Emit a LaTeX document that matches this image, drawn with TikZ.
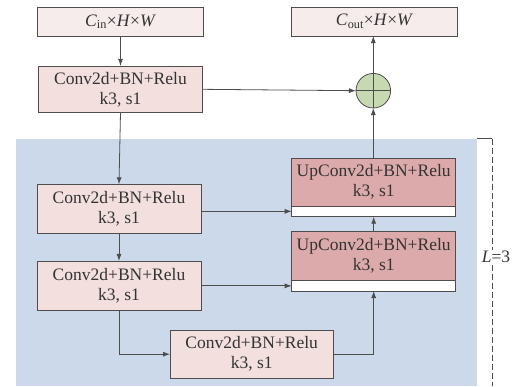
\documentclass[tikz,border=0pt]{standalone}
\usepackage{fontspec}
\setmainfont{Liberation Serif}
\usetikzlibrary{arrows.meta}
\definecolor{txt}{HTML}{333333}
\definecolor{edge}{HTML}{4D4D4D}
\definecolor{iofill}{HTML}{F7ECEC}
\definecolor{convfill}{HTML}{F2DFDE}
\definecolor{upfill}{HTML}{DCAAAA}
\definecolor{sumfill}{HTML}{C6D9B1}
\definecolor{bluebg}{HTML}{CCD9EB}
\tikzset{
  base/.style={draw=edge, line width=0.8pt, inner sep=0pt, outer sep=0pt, text=txt, align=center,
    font=\fontsize{17.5}{20}\selectfont},
  iobox/.style={base, fill=iofill, minimum width=165.5pt, minimum height=29pt},
  convbox/.style={base, fill=convfill, minimum width=164pt},
  upbox/.style={base, fill=upfill, minimum width=164pt, minimum height=47.7pt},
  stripbox/.style={base, fill=white, minimum width=164pt, minimum height=10.7pt},
  arr/.style={draw=edge, line width=0.8pt, -{Latex[length=7pt,width=5pt]}},
  ln/.style={draw=edge, line width=0.8pt},
}
\begin{document}
\begin{tikzpicture}[x=1pt,y=-1pt]
\useasboundingbox (0,0) rectangle (522,386);
\fill[bluebg] (16,138.5) rectangle (476.7,386);
\draw[ln] (476.7,138.5) -- (492,138.5) coordinate (brk);
\coordinate (brkb) at (492,386);
\draw[ln, dash pattern=on 6pt off 3pt] (brk) -- (brkb);
\node[fill=white, inner sep=1pt, text=txt, font=\fontsize{17.5}{20}\selectfont] (lab) at (496,257) {\textit{L}=3};

\node[iobox] (in) at (120.5,21.5) {\textit{C}\textsubscript{in}×\textit{H}×\textit{W}};
\node[iobox] (out) at (374.5,21.5) {\textit{C}\textsubscript{out}×\textit{H}×\textit{W}};
\node[convbox, minimum height=46.7pt] (c1) at (120.5,89.3) {Conv2d+BN+Relu\\k3, s1};
\node[base, circle, fill=sumfill, minimum size=34.6pt] (sum) at (373.3,90.7) {};
\draw[ln] (sum.north) -- (sum.south) (sum.west) -- (sum.east);
\node[convbox, minimum height=49pt] (c2) at (119,208.8) {Conv2d+BN+Relu\\k3, s1};
\node[convbox, minimum height=49.7pt] (c3) at (119,285.8) {Conv2d+BN+Relu\\k3, s1};
\node[convbox, minimum width=163.3pt, minimum height=48.3pt] (c4) at (251.7,354.2) {Conv2d+BN+Relu\\k3, s1};
\node[upbox] (u1) at (373.7,182.15) {UpConv2d+BN+Relu\\k3, s1};
\node[stripbox, anchor=north] (u1s) at (u1.south) {};
\node[upbox, minimum height=49pt] (u2) at (373.7,256.2) {UpConv2d+BN+Relu\\k3, s1};
\node[stripbox, minimum height=10.3pt, anchor=north] (u2s) at (u2.south) {};

\draw[arr] (in.south) -- (c1.north);
\draw[arr] (c1.east) -- (sum.west);
\draw[arr] (sum.north) -- (sum.north |- out.south);
\draw[arr] (sum.south |- u1.north) -- (sum.south);
\draw[arr] (c1.south) -- (c2.north);
\draw[arr] (c2.east |- u1s.west) -- (u1s.west);
\draw[arr] (c2.south) -- (c3.north);
\draw[arr] (c3.east |- u2s.west) -- (u2s.west);
\draw[arr] (c3.south) |- (c4.west);
\draw[arr] (c4.east) -| (u2s.south);
\draw[arr] (u2.north) -- (u1s.south);
\end{tikzpicture}
\end{document}
